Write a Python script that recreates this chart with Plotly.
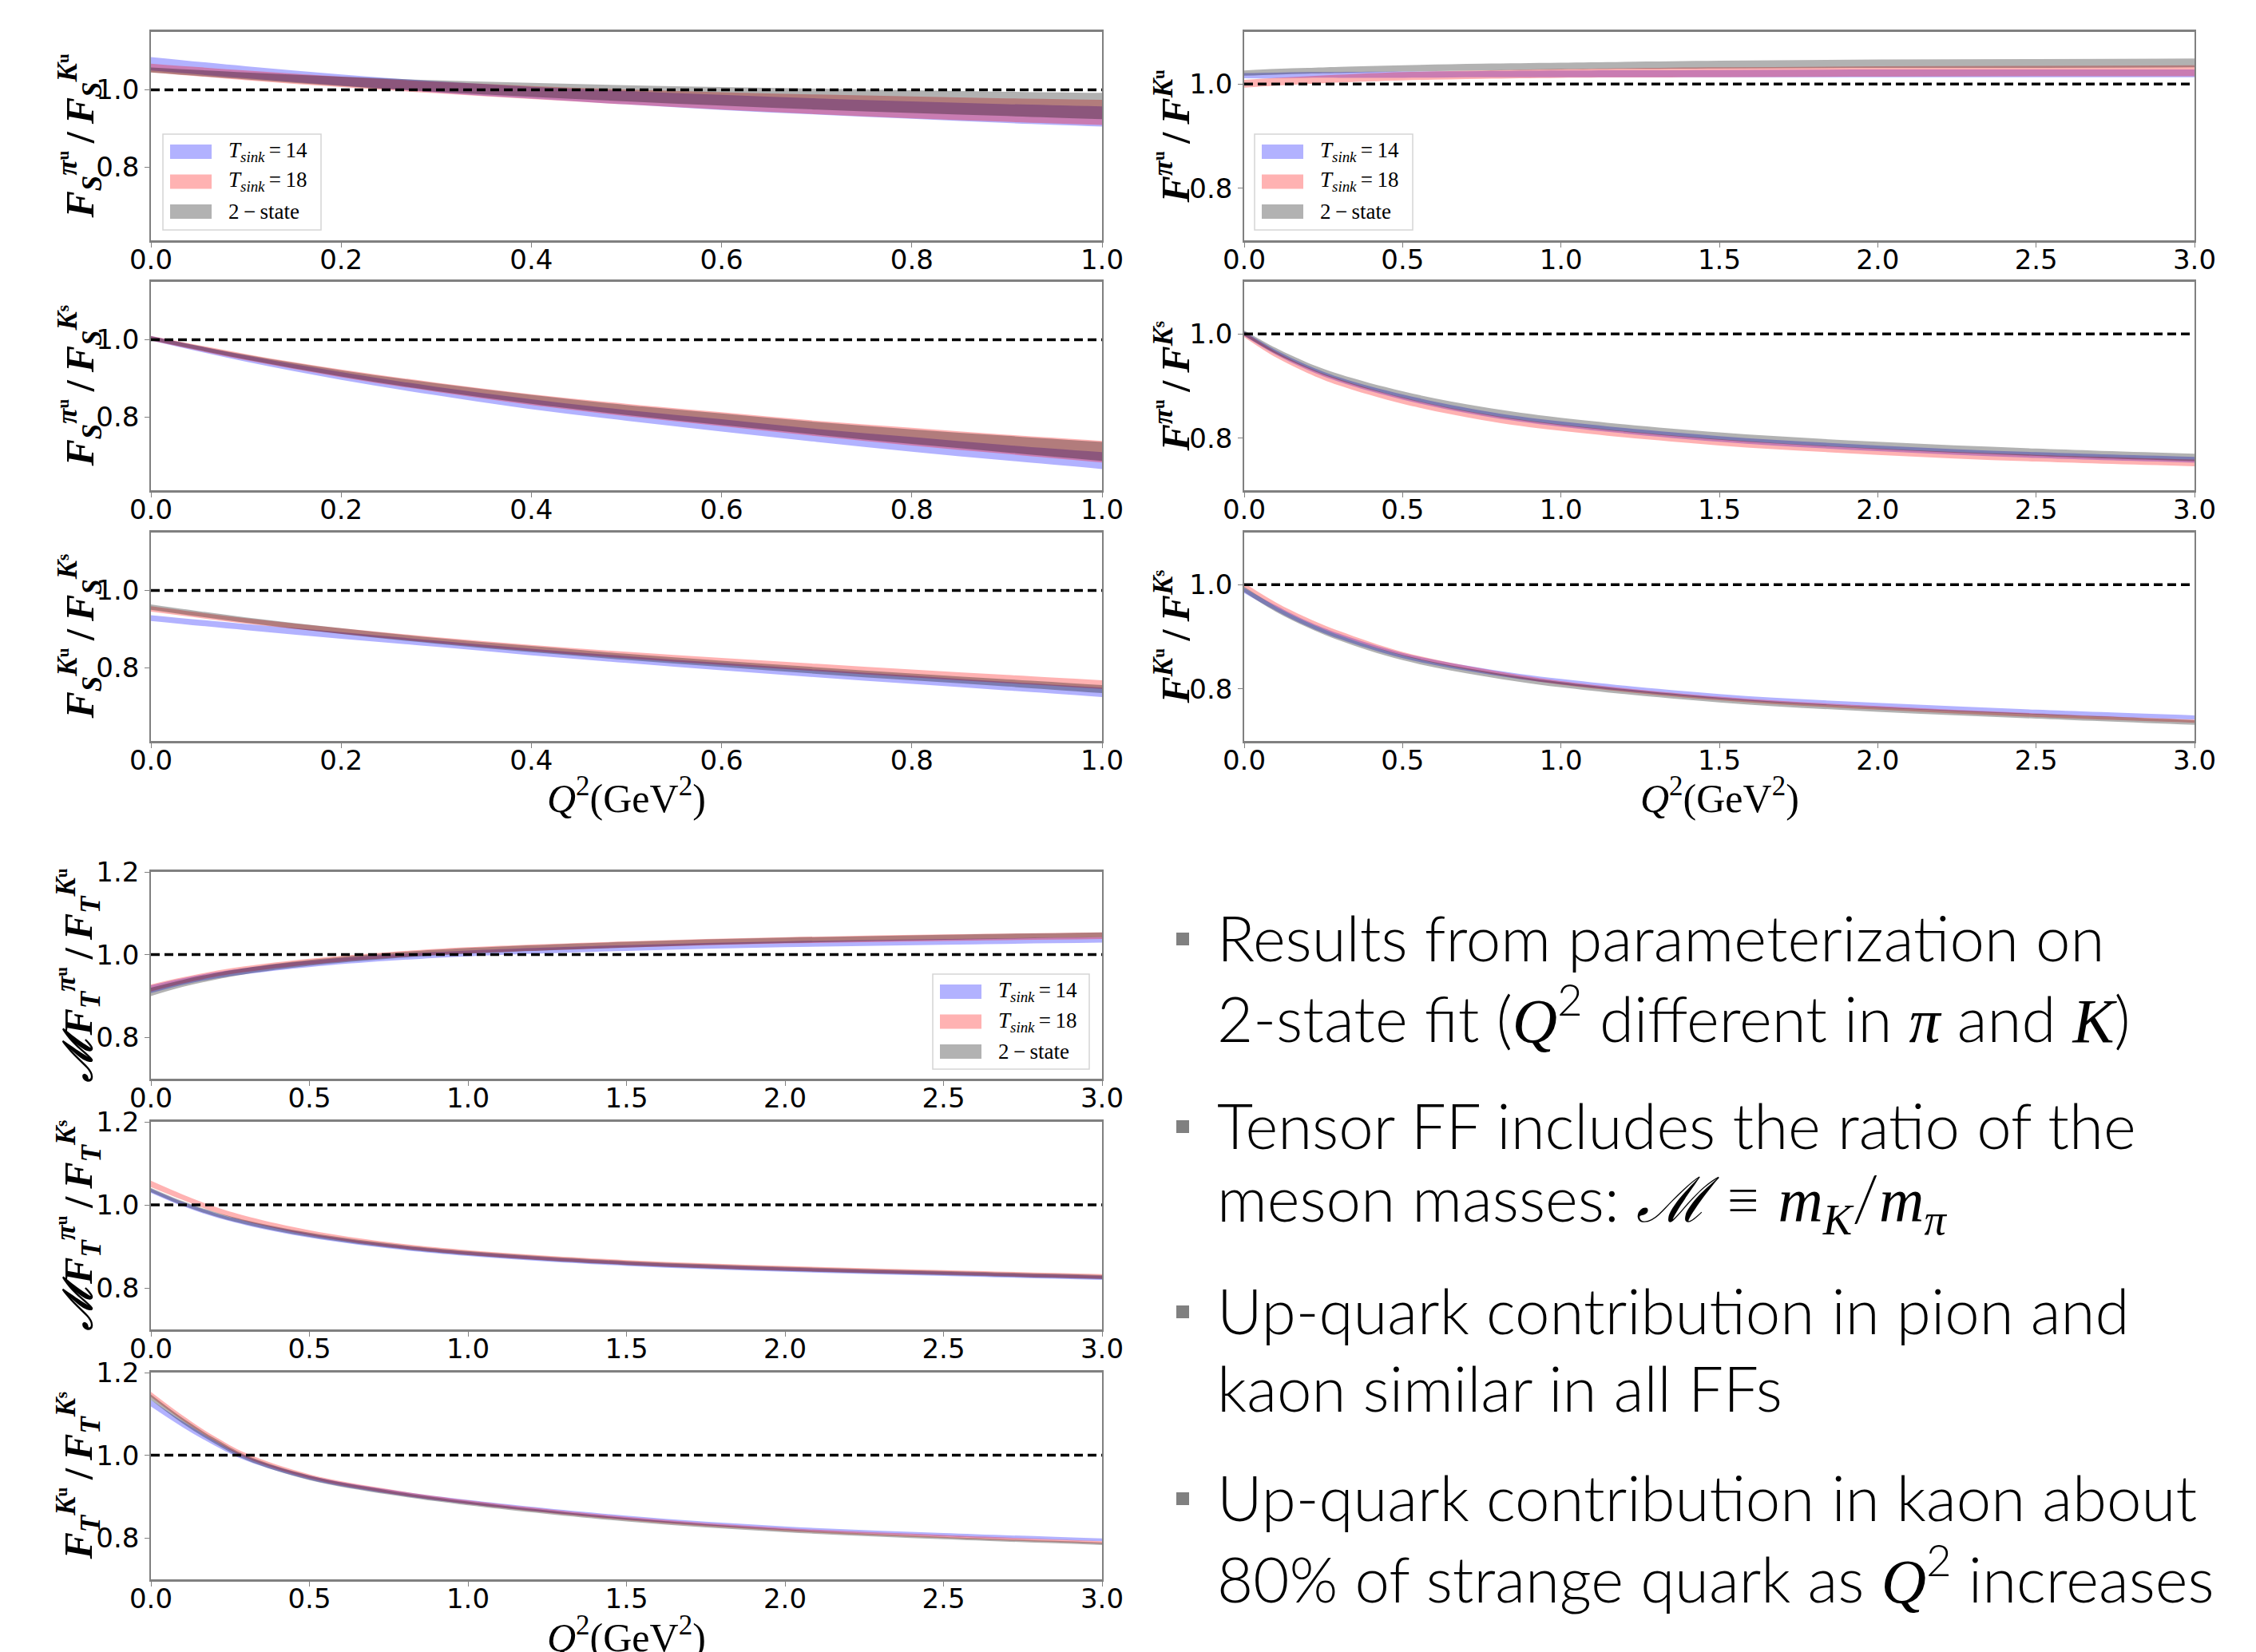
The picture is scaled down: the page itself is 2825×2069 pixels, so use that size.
import plotly.graph_objects as go

W, H = 2825, 2069

# ---------------- data ----------------
Q2_S = [0.0, 0.1, 0.2, 0.3, 0.4, 0.5, 0.6, 0.7, 0.8, 0.9, 1.0]
Q2_W = [0.0, 0.1, 0.2, 0.3, 0.5, 0.75, 1.0, 1.5, 2.0, 2.5, 3.0]
REF_X_S = [0.0, 1.0]
REF_X_W = [0.0, 3.0]
REF_Y = [1.0, 1.0]

# panel 1: F_S^{pi u} / F_S^{K u}
A_T14_LO = [1.050, 1.030, 1.011, 0.993, 0.977, 0.962, 0.948, 0.936, 0.925, 0.914, 0.905]
A_T14_HI = [1.085, 1.061, 1.040, 1.022, 1.008, 0.997, 0.987, 0.978, 0.970, 0.963, 0.957]
A_T18_LO = [1.045, 1.025, 1.007, 0.991, 0.976, 0.962, 0.949, 0.937, 0.926, 0.917, 0.909]
A_T18_HI = [1.068, 1.050, 1.034, 1.021, 1.010, 1.001, 0.994, 0.988, 0.983, 0.978, 0.974]
A_2ST_LO = [1.045, 1.027, 1.010, 0.995, 0.982, 0.970, 0.959, 0.949, 0.940, 0.932, 0.924]
A_2ST_HI = [1.058, 1.045, 1.034, 1.025, 1.018, 1.012, 1.007, 1.003, 0.999, 0.995, 0.992]

# panel 2: F_S^{pi u} / F_S^{K s}
B_T14_LO = [0.998, 0.943, 0.896, 0.856, 0.820, 0.790, 0.762, 0.735, 0.710, 0.687, 0.665]
B_T14_HI = [1.010, 0.959, 0.916, 0.878, 0.846, 0.818, 0.794, 0.769, 0.748, 0.727, 0.709]
B_T18_LO = [0.998, 0.947, 0.903, 0.865, 0.831, 0.802, 0.776, 0.750, 0.726, 0.704, 0.682]
B_T18_HI = [1.010, 0.963, 0.923, 0.889, 0.859, 0.834, 0.812, 0.790, 0.772, 0.754, 0.738]
B_2ST_LO = [0.999, 0.949, 0.905, 0.867, 0.834, 0.805, 0.779, 0.754, 0.730, 0.708, 0.686]
B_2ST_HI = [1.009, 0.961, 0.921, 0.887, 0.857, 0.831, 0.809, 0.787, 0.768, 0.751, 0.735]

# panel 3: F_S^{K u} / F_S^{K s}
C_T14_LO = [0.921, 0.897, 0.875, 0.854, 0.832, 0.812, 0.793, 0.775, 0.758, 0.741, 0.724]
C_T14_HI = [0.936, 0.913, 0.892, 0.870, 0.849, 0.830, 0.812, 0.795, 0.779, 0.763, 0.748]
C_T18_LO = [0.945, 0.914, 0.888, 0.864, 0.843, 0.824, 0.807, 0.791, 0.775, 0.760, 0.745]
C_T18_HI = [0.959, 0.928, 0.902, 0.879, 0.859, 0.841, 0.825, 0.810, 0.795, 0.781, 0.767]
C_2ST_LO = [0.950, 0.916, 0.887, 0.862, 0.840, 0.820, 0.802, 0.784, 0.767, 0.751, 0.734]
C_2ST_HI = [0.964, 0.930, 0.902, 0.877, 0.856, 0.836, 0.818, 0.801, 0.785, 0.770, 0.755]

# panel 4: F^{pi u} / F^{K u}
D_T14_LO = [1.011, 1.011, 1.012, 1.012, 1.012, 1.013, 1.013, 1.013, 1.013, 1.013, 1.013]
D_T14_HI = [1.021, 1.022, 1.023, 1.023, 1.024, 1.025, 1.026, 1.027, 1.028, 1.028, 1.028]
D_T18_LO = [0.993, 0.997, 1.000, 1.003, 1.007, 1.010, 1.012, 1.013, 1.014, 1.015, 1.015]
D_T18_HI = [1.008, 1.012, 1.015, 1.018, 1.023, 1.026, 1.029, 1.032, 1.034, 1.035, 1.036]
D_2ST_LO = [1.016, 1.018, 1.020, 1.021, 1.024, 1.026, 1.028, 1.030, 1.031, 1.031, 1.032]
D_2ST_HI = [1.026, 1.029, 1.031, 1.033, 1.036, 1.039, 1.041, 1.045, 1.047, 1.048, 1.049]

# panel 5: F^{pi u} / F^{K s}
E_T14_LO = [0.996, 0.960, 0.931, 0.908, 0.874, 0.843, 0.822, 0.793, 0.775, 0.762, 0.753]
E_T14_HI = [1.005, 0.969, 0.940, 0.917, 0.884, 0.853, 0.832, 0.804, 0.786, 0.773, 0.764]
E_T18_LO = [0.994, 0.955, 0.925, 0.901, 0.866, 0.835, 0.814, 0.786, 0.768, 0.755, 0.746]
E_T18_HI = [1.004, 0.966, 0.936, 0.913, 0.878, 0.847, 0.826, 0.798, 0.780, 0.768, 0.759]
E_2ST_LO = [0.997, 0.962, 0.934, 0.911, 0.877, 0.846, 0.825, 0.797, 0.779, 0.766, 0.756]
E_2ST_HI = [1.007, 0.973, 0.945, 0.923, 0.890, 0.860, 0.839, 0.811, 0.793, 0.780, 0.770]

# panel 6: F^{K u} / F^{K s}
F_T14_LO = [0.984, 0.950, 0.920, 0.896, 0.859, 0.830, 0.809, 0.781, 0.764, 0.751, 0.741]
F_T14_HI = [0.994, 0.960, 0.930, 0.906, 0.869, 0.840, 0.819, 0.790, 0.773, 0.760, 0.749]
F_T18_LO = [0.995, 0.958, 0.928, 0.903, 0.864, 0.832, 0.808, 0.778, 0.760, 0.746, 0.735]
F_T18_HI = [1.003, 0.966, 0.936, 0.911, 0.871, 0.839, 0.815, 0.785, 0.767, 0.753, 0.741]
F_2ST_LO = [0.986, 0.948, 0.918, 0.893, 0.855, 0.825, 0.803, 0.774, 0.756, 0.743, 0.731]
F_2ST_HI = [0.996, 0.958, 0.928, 0.903, 0.865, 0.835, 0.813, 0.783, 0.765, 0.752, 0.740]

# panel 7: M F_T^{pi u} / F_T^{K u}
G_T14_LO = [0.907, 0.927, 0.942, 0.953, 0.970, 0.985, 0.996, 1.009, 1.018, 1.024, 1.029]
G_T14_HI = [0.926, 0.943, 0.957, 0.968, 0.985, 1.000, 1.010, 1.023, 1.032, 1.038, 1.042]
G_T18_LO = [0.911, 0.930, 0.946, 0.958, 0.976, 0.992, 1.003, 1.017, 1.027, 1.033, 1.038]
G_T18_HI = [0.928, 0.945, 0.960, 0.972, 0.990, 1.006, 1.018, 1.032, 1.042, 1.049, 1.054]
G_2ST_LO = [0.900, 0.922, 0.939, 0.953, 0.973, 0.990, 1.002, 1.017, 1.028, 1.036, 1.042]
G_2ST_HI = [0.920, 0.939, 0.955, 0.968, 0.987, 1.004, 1.016, 1.031, 1.041, 1.048, 1.054]

# panel 8: M F_T^{pi u} / F_T^{K s}
H_T14_LO = [1.029, 0.997, 0.971, 0.951, 0.921, 0.895, 0.877, 0.853, 0.839, 0.829, 0.819]
H_T14_HI = [1.039, 1.007, 0.981, 0.961, 0.931, 0.905, 0.887, 0.863, 0.849, 0.839, 0.829]
H_T18_LO = [1.043, 1.012, 0.983, 0.960, 0.927, 0.899, 0.880, 0.856, 0.842, 0.832, 0.822]
H_T18_HI = [1.058, 1.025, 0.996, 0.973, 0.939, 0.910, 0.891, 0.867, 0.853, 0.843, 0.833]
H_2ST_LO = [1.031, 0.999, 0.973, 0.953, 0.923, 0.897, 0.879, 0.855, 0.841, 0.831, 0.821]
H_2ST_HI = [1.041, 1.009, 0.983, 0.963, 0.933, 0.907, 0.889, 0.865, 0.851, 0.841, 0.831]

# panel 9: F_T^{K u} / F_T^{K s}
I_T14_LO = [1.118, 1.068, 1.024, 0.987, 0.941, 0.907, 0.882, 0.845, 0.820, 0.804, 0.792]
I_T14_HI = [1.134, 1.082, 1.036, 0.998, 0.951, 0.917, 0.892, 0.854, 0.828, 0.812, 0.799]
I_T18_LO = [1.141, 1.084, 1.035, 0.994, 0.944, 0.908, 0.882, 0.843, 0.817, 0.800, 0.786]
I_T18_HI = [1.153, 1.096, 1.046, 1.005, 0.954, 0.918, 0.891, 0.851, 0.824, 0.807, 0.792]
I_2ST_LO = [1.134, 1.077, 1.029, 0.989, 0.940, 0.905, 0.879, 0.840, 0.814, 0.797, 0.783]
I_2ST_HI = [1.147, 1.090, 1.041, 1.000, 0.951, 0.915, 0.888, 0.848, 0.821, 0.803, 0.789]

SERIES_NAMES = ["<i>T</i><sub><i>sink</i></sub>\u2009=\u200914",
                "<i>T</i><sub><i>sink</i></sub>\u2009=\u200918",
                "2\u2009\u2212\u2009state"]
SERIES_COLORS = ["rgba(0,0,255,0.3)", "rgba(255,0,0,0.3)", "rgba(0,0,0,0.3)"]

X_TICKS_S = [0.0, 0.2, 0.4, 0.6, 0.8, 1.0]
X_TICKS_W = [0.0, 0.5, 1.0, 1.5, 2.0, 2.5, 3.0]
Y_TICKS_TOP = [0.8, 1.0]
Y_TICKS_BOT = [0.8, 1.0, 1.2]
Y_RANGE_LEFT = [0.61, 1.15]
Y_RANGE_RIGHT = [0.70, 1.10]
Y_RANGE_BOT = [0.70, 1.20]

# ---------------- layout geometry (pixels) ----------------
COL_L = (189, 1380)
COL_R = (1558, 2748)
ROWS_TOP = [(40, 301), (353, 614), (667, 928)]
ROWS_BOT = [(1092, 1351), (1405, 1665), (1719, 1978)]
LEGEND_BOXES = [(204, 168, 402, 288), (1571, 168, 1769, 288), (1168, 1220, 1364, 1339)]


def fx(px):
    return px / W


def fy(py):
    return 1 - py / H


UP = "\u1d58"
SQ = "\u02e2"


def ff(sub, meson, quark):
    s = "<i>F</i>"
    if sub:
        s += "<sub><i>%s</i></sub>" % sub
    s += "<sup><i>%s</i>%s</sup>" % (meson, quark)
    return s


SL = "\u2009/\u2009"
panels = [
    dict(col=COL_L, row=ROWS_TOP[0], x=Q2_S, refx=REF_X_S, bands=[(A_T14_LO, A_T14_HI), (A_T18_LO, A_T18_HI), (A_2ST_LO, A_2ST_HI)],
         xt=X_TICKS_S, xr=[0, 1], yt=Y_TICKS_TOP, yr=Y_RANGE_LEFT,
         lab=ff("S", "\u03c0", UP) + SL + ff("S", "K", UP), labx=100),
    dict(col=COL_L, row=ROWS_TOP[1], x=Q2_S, refx=REF_X_S, bands=[(B_T14_LO, B_T14_HI), (B_T18_LO, B_T18_HI), (B_2ST_LO, B_2ST_HI)],
         xt=X_TICKS_S, xr=[0, 1], yt=Y_TICKS_TOP, yr=Y_RANGE_LEFT,
         lab=ff("S", "\u03c0", UP) + SL + ff("S", "K", SQ), labx=100),
    dict(col=COL_L, row=ROWS_TOP[2], x=Q2_S, refx=REF_X_S, bands=[(C_T14_LO, C_T14_HI), (C_T18_LO, C_T18_HI), (C_2ST_LO, C_2ST_HI)],
         xt=X_TICKS_S, xr=[0, 1], yt=Y_TICKS_TOP, yr=Y_RANGE_LEFT,
         lab=ff("S", "K", UP) + SL + ff("S", "K", SQ), labx=100),
    dict(col=COL_R, row=ROWS_TOP[0], x=Q2_W, refx=REF_X_W, bands=[(D_T14_LO, D_T14_HI), (D_T18_LO, D_T18_HI), (D_2ST_LO, D_2ST_HI)],
         xt=X_TICKS_W, xr=[0, 3], yt=Y_TICKS_TOP, yr=Y_RANGE_RIGHT,
         lab=ff("", "\u03c0", UP) + SL + ff("", "K", UP), labx=1468),
    dict(col=COL_R, row=ROWS_TOP[1], x=Q2_W, refx=REF_X_W, bands=[(E_T14_LO, E_T14_HI), (E_T18_LO, E_T18_HI), (E_2ST_LO, E_2ST_HI)],
         xt=X_TICKS_W, xr=[0, 3], yt=Y_TICKS_TOP, yr=Y_RANGE_RIGHT,
         lab=ff("", "\u03c0", UP) + SL + ff("", "K", SQ), labx=1468),
    dict(col=COL_R, row=ROWS_TOP[2], x=Q2_W, refx=REF_X_W, bands=[(F_T14_LO, F_T14_HI), (F_T18_LO, F_T18_HI), (F_2ST_LO, F_2ST_HI)],
         xt=X_TICKS_W, xr=[0, 3], yt=Y_TICKS_TOP, yr=Y_RANGE_RIGHT,
         lab=ff("", "K", UP) + SL + ff("", "K", SQ), labx=1468),
    dict(col=COL_L, row=ROWS_BOT[0], x=Q2_W, refx=REF_X_W, bands=[(G_T14_LO, G_T14_HI), (G_T18_LO, G_T18_HI), (G_2ST_LO, G_2ST_HI)],
         xt=X_TICKS_W, xr=[0, 3], yt=Y_TICKS_BOT, yr=Y_RANGE_BOT,
         lab="<i>\u2133</i>" + ff("T", "\u03c0", UP) + SL + ff("T", "K", UP), labx=98),
    dict(col=COL_L, row=ROWS_BOT[1], x=Q2_W, refx=REF_X_W, bands=[(H_T14_LO, H_T14_HI), (H_T18_LO, H_T18_HI), (H_2ST_LO, H_2ST_HI)],
         xt=X_TICKS_W, xr=[0, 3], yt=Y_TICKS_BOT, yr=Y_RANGE_BOT,
         lab="<i>\u2133</i>" + ff("T", "\u03c0", UP) + SL + ff("T", "K", SQ), labx=98),
    dict(col=COL_L, row=ROWS_BOT[2], x=Q2_W, refx=REF_X_W, bands=[(I_T14_LO, I_T14_HI), (I_T18_LO, I_T18_HI), (I_2ST_LO, I_2ST_HI)],
         xt=X_TICKS_W, xr=[0, 3], yt=Y_TICKS_BOT, yr=Y_RANGE_BOT,
         lab=ff("T", "K", UP) + SL + ff("T", "K", SQ), labx=98),
]

fig = go.Figure()
layout = dict(width=W, height=H, autosize=False, margin=dict(l=0, r=0, t=0, b=0, autoexpand=False),
              paper_bgcolor="white", plot_bgcolor="white", showlegend=False,
              font=dict(family="DejaVu Sans", color="black"))
annotations = []
shapes = []

axis_line = "#808080"
for i, p in enumerate(panels, start=1):
    xa = "x" if i == 1 else "x%d" % i
    ya = "y" if i == 1 else "y%d" % i
    for k, (lo, hi) in enumerate(p["bands"]):
        fig.add_trace(go.Scatter(x=p["x"], y=lo, mode="lines", line=dict(width=0, shape="spline"),
                                 xaxis=xa, yaxis=ya, showlegend=False, hoverinfo="skip"))
        fig.add_trace(go.Scatter(x=p["x"], y=hi, mode="lines", line=dict(width=0, shape="spline"),
                                 fill="tonexty", fillcolor=SERIES_COLORS[k], name=SERIES_NAMES[k],
                                 xaxis=xa, yaxis=ya, showlegend=False, hoverinfo="skip"))
    fig.add_trace(go.Scatter(x=p["refx"], y=REF_Y, mode="lines",
                             line=dict(color="black", width=3.5, dash="11px,6px"),
                             xaxis=xa, yaxis=ya, showlegend=False, hoverinfo="skip"))
    x0, x1 = p["col"]
    y0, y1 = p["row"]
    common = dict(showgrid=False, zeroline=False, showline=True, mirror=True, automargin=False,
                  linecolor=axis_line, ticks="outside", ticklen=6, tickcolor=axis_line,
                  tickformat=".1f", tickfont=dict(family="DejaVu Sans", size=34, color="black"))
    layout["xaxis" if i == 1 else "xaxis%d" % i] = dict(
        domain=[fx(x0), fx(x1)], anchor=ya, range=p["xr"], tickvals=p["xt"], linewidth=3,
        ticklabelstandoff=-14, **common)
    layout["yaxis" if i == 1 else "yaxis%d" % i] = dict(
        domain=[fy(y1), fy(y0)], anchor=xa, range=p["yr"], tickvals=p["yt"], linewidth=1.5, **common)
    annotations.append(dict(text="<b>" + p["lab"] + "</b>", textangle=-90, xref="paper", yref="paper",
                            x=fx(p["labx"]), y=fy((y0 + y1) / 2), xanchor="center", yanchor="middle",
                            showarrow=False, font=dict(family="Liberation Serif", size=50, color="black")))

# x-axis titles
for cx, cy in [(784, 996), (2153, 996), (784, 2047)]:
    annotations.append(dict(text="<i>Q</i><sup>2</sup>(GeV<sup>2</sup>)", xref="paper", yref="paper",
                            x=fx(cx), y=fy(cy), xanchor="center", yanchor="middle", showarrow=False,
                            font=dict(family="Liberation Serif", size=50, color="black")))

# legends (drawn as boxes with colour patches)
for bx0, by0, bx1, by1 in LEGEND_BOXES:
    shapes.append(dict(type="rect", xref="paper", yref="paper", x0=fx(bx0), x1=fx(bx1), y0=fy(by1), y1=fy(by0),
                       fillcolor="rgba(255,255,255,0.85)", line=dict(color="#d5d5d5", width=1.5)))
    for k in range(3):
        cy = by0 + 22 + k * 37.5
        shapes.append(dict(type="rect", xref="paper", yref="paper", x0=fx(bx0 + 9), x1=fx(bx0 + 61),
                           y0=fy(cy + 9), y1=fy(cy - 9), fillcolor=SERIES_COLORS[k], line=dict(width=0)))
        annotations.append(dict(text=SERIES_NAMES[k], xref="paper", yref="paper", x=fx(bx0 + 80), y=fy(cy),
                                xanchor="left", yanchor="middle", showarrow=False,
                                font=dict(family="Liberation Serif", size=27, color="black")))

# bullet text
M = "<span style='font-family:Liberation Serif'><i>%s</i></span>"
BULLET_LINES = [
    ("Results from parameterization on", 1174, True),
    ("2-state fit (" + M % "Q" + "<sup>2</sup> different in " + M % "\u03c0" + " and " + M % "K" + ")", 1270, False),
    ("Tensor FF includes the ratio of the", 1409, True),
    ("meson masses: " + M % "\u2133" + " \u2261 " + M % "m" + "<sub>" + M % "K" + "</sub>/" + M % "m"
     + "<sub>" + M % "\u03c0" + "</sub>", 1505, False),
    ("Up-quark contribution in pion and", 1641, True),
    ("kaon similar in all FFs", 1738, False),
    ("Up-quark contribution in kaon about", 1875, True),
    ("80% of strange quark as " + M % "Q" + "<sup>2</sup> increases", 1972, False),
]
for txt, yc, bullet in BULLET_LINES:
    annotations.append(dict(text=txt, xref="paper", yref="paper", x=fx(1522), y=fy(yc),
                            xanchor="left", yanchor="middle", showarrow=False,
                            font=dict(family="Lato", size=78, color="black", weight=300)))
    if bullet:
        shapes.append(dict(type="rect", xref="paper", yref="paper",
                           x0=fx(1473), x1=fx(1489), y0=fy(yc + 10), y1=fy(yc - 6),
                           fillcolor="#808080", line=dict(width=0)))

layout["annotations"] = annotations
layout["shapes"] = shapes
fig.update_layout(**layout)

fig.write_html("out.html", config={"displayModeBar": False},
               post_script="document.body.style.margin='0px';document.body.style.overflow='hidden';")
